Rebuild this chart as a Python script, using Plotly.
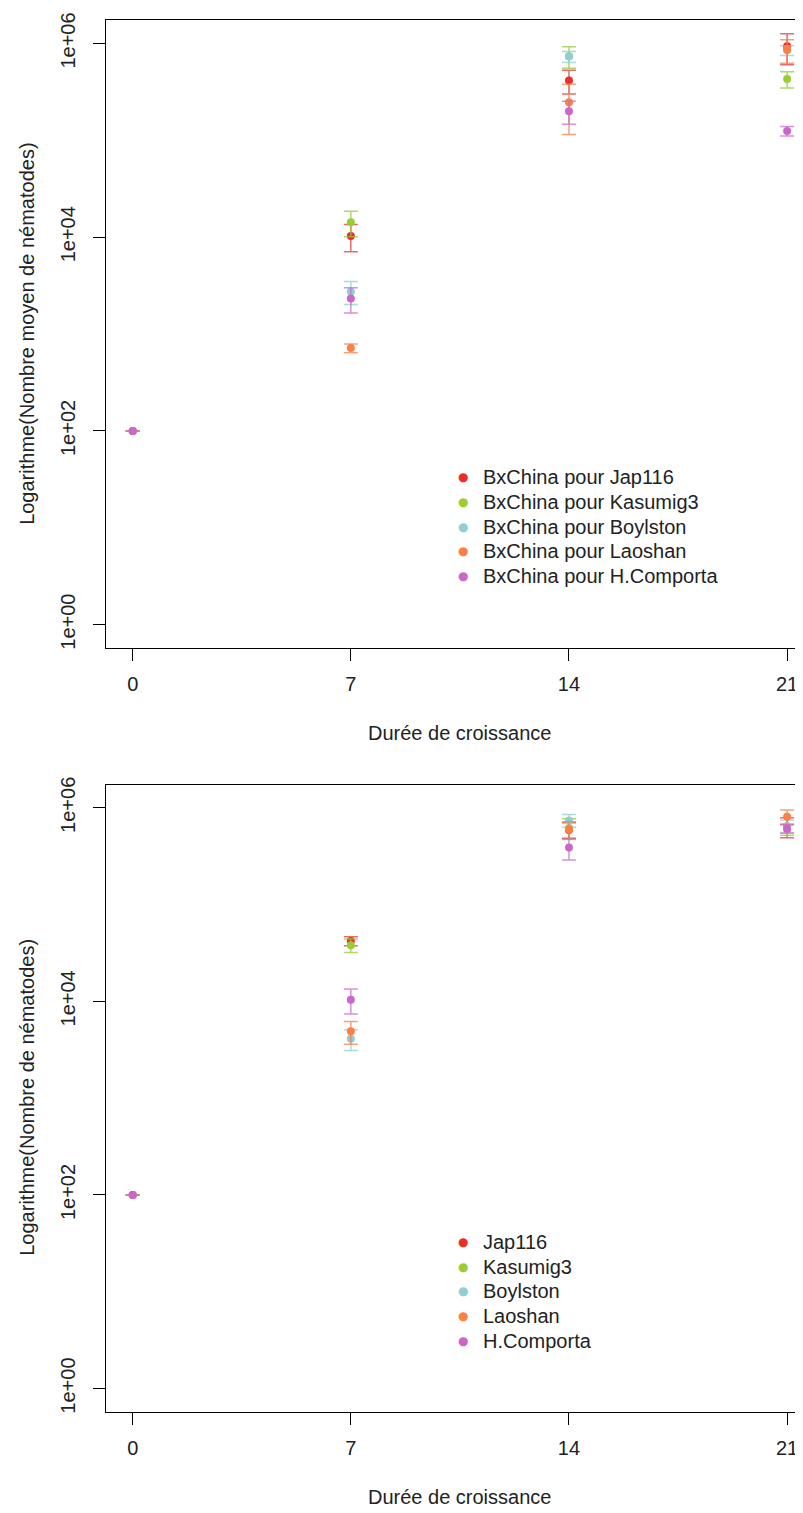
import plotly.graph_objects as go

# page body has an 8px margin, so the figure is drawn 8px smaller and shifted
W, H = 803, 1513
OFF = 8
FW, FH = W - OFF, H - OFF

days = [0, 7, 14, 21]
strains = ["Jap116", "Kasumig3", "Boylston", "Laoshan", "H.Comporta"]
strain_colors = ["#EE2C2C", "#9ACD32", "#8ECFD3", "#FF7F45", "#CD66CC"]
err_colors = ["rgba(220,60,60,0.75)", "rgba(150,200,60,0.75)", "rgba(140,205,210,0.75)",
              "rgba(240,130,80,0.75)", "rgba(200,110,200,0.75)"]

# top panel : nombre moyen (BxChina pour ...)
moy_jap116 = [100, 10300, 416000, 935000]
moy_kasumig3 = [100, 14300, 740000, 430000]
moy_boylston = [100, 2750, 733000, 850000]
moy_laoshan = [100, 717, 247000, 860000]
moy_comporta = [100, 2330, 200000, 125000]

moy_err_jap116 = [None, 3200, 115000, 330000]
moy_err_kasumig3 = [None, 4200, 185000, 82000]
moy_err_boylston = [None, 730, 95000, 100000]
moy_err_laoshan = [None, 75, 132000, 235000]
moy_err_comporta = [None, 680, 53000, 14000]

# bottom panel : nombre de nematodes
nb_jap116 = [100, 42000, 590000, 640000]
nb_kasumig3 = [100, 38000, 620000, 600000]
nb_boylston = [100, 4100, 740000, 650000]
nb_laoshan = [100, 4900, 599000, 809000]
nb_comporta = [100, 10400, 388000, 609000]

nb_err_jap116 = [None, 4500, 110000, 150000]
nb_err_kasumig3 = [None, 6000, 150000, 80000]
nb_err_boylston = [None, 1000, 110000, 100000]
nb_err_laoshan = [None, 1300, 120000, 137000]
nb_err_comporta = [None, 3000, 100000, 60000]

x_ticks = [0, 7, 14, 21]
y_tickvals = [1, 100, 10000, 1000000]
y_ticktext = ["1e+00", "1e+02", "1e+04", "1e+06"]

top_names = ["BxChina pour " + s for s in strains]
top_vals = [moy_jap116, moy_kasumig3, moy_boylston, moy_laoshan, moy_comporta]
top_errs = [moy_err_jap116, moy_err_kasumig3, moy_err_boylston, moy_err_laoshan, moy_err_comporta]
bot_vals = [nb_jap116, nb_kasumig3, nb_boylston, nb_laoshan, nb_comporta]
bot_errs = [nb_err_jap116, nb_err_kasumig3, nb_err_boylston, nb_err_laoshan, nb_err_comporta]

FONT = "Liberation Sans, Arial, sans-serif"
TXT = "#222222"


def px(x):
    return (x - OFF) / FW


def py(y):
    return 1 - (y - OFF) / FH


fig = go.Figure()


def add_panel(names, vals, errs, xa, ya):
    for i in range(len(names)):
        fig.add_trace(go.Scatter(
            x=days, y=vals[i], name=names[i], mode="markers",
            marker=dict(color=strain_colors[i], size=8),
            error_y=dict(type="data", array=errs[i], color=err_colors[i],
                         thickness=1.5, width=7),
            xaxis=xa, yaxis=ya, showlegend=False))


add_panel(top_names, top_vals, top_errs, "x", "y")
add_panel(strains, bot_vals, bot_errs, "x2", "y2")

xaxis_style = dict(range=[-0.866, 21.51], tickvals=x_ticks, ticks="outside", ticklen=12,
                   tickwidth=1, tickcolor="black", showline=True, linecolor="black",
                   linewidth=1.2, mirror=True, showgrid=False, zeroline=False,
                   tickfont=dict(size=20, color=TXT), ticklabelstandoff=6,
                   ticklabeloverflow="allow")
yaxis_style = dict(type="log", range=[-0.242, 6.24], tickvals=y_tickvals, ticktext=y_ticktext,
                   ticks="outside", ticklen=12, tickwidth=1, tickcolor="black",
                   showline=True, linecolor="black", linewidth=1.2, showgrid=False,
                   zeroline=False, tickangle=-90, tickfont=dict(size=20, color=TXT),
                   ticklabelstandoff=10)

annotations = [
    dict(text="Durée de croissance", x=px(459), y=py(730)),
    dict(text="Durée de croissance", x=px(459), y=py(1499)),
    dict(text="Logarithme(Nombre moyen de nématodes)", x=px(27), y=py(328), textangle=-90),
    dict(text="Logarithme(Nombre de nématodes)", x=px(27), y=py(1097), textangle=-90),
]


# legends (R style: dot + label, 25px line spacing)
def add_legend(names, top_row):
    for i, name in enumerate(names):
        yy = top_row + 25 * i
        annotations.append(dict(text="●", x=px(463), y=py(yy),
                                font=dict(size=12, color=strain_colors[i],
                                          family="DejaVu Sans")))
        annotations.append(dict(text=name, x=px(481), y=py(yy), xanchor="left"))


add_legend(top_names, 472)
add_legend(strains, 1242)

for a in annotations:
    a.setdefault("xref", "paper")
    a.setdefault("yref", "paper")
    a.setdefault("showarrow", False)
    a.setdefault("xanchor", "center")
    a.setdefault("yanchor", "middle")
    a.setdefault("font", dict(size=20, color=TXT))

fig.update_layout(
    width=FW, height=FH,
    margin=dict(l=0, r=0, t=0, b=0),
    plot_bgcolor="white", paper_bgcolor="white",
    font=dict(family=FONT, color=TXT),
    showlegend=False,
    xaxis=dict(domain=[px(105.7), 1], anchor="y", **xaxis_style),
    yaxis=dict(domain=[py(644.3), py(12.3)], anchor="x", **yaxis_style),
    xaxis2=dict(domain=[px(105.7), 1], anchor="y2", **xaxis_style),
    yaxis2=dict(domain=[py(1413.3), py(781.7)], anchor="x2", **yaxis_style),
    annotations=annotations,
)

fig.write_html("out.html")
